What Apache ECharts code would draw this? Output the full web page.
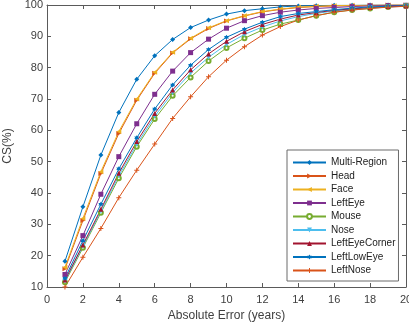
<!DOCTYPE html>
<html>
<head>
<meta charset="utf-8">
<script src="https://cdn.jsdelivr.net/npm/echarts@6/dist/echarts.min.js"></script>
<style>
  html, body { margin: 0; padding: 0; background: #fff; }
  #chart { width: 409px; height: 329px; }
</style>
</head>
<body>
<div id="chart"></div>
<script>
// absolute error (years) 1..20
const errors = [1, 2, 3, 4, 5, 6, 7, 8, 9, 10, 11, 12, 13, 14, 15, 16, 17, 18, 19, 20];

const multiRegion = [18.2, 35.6, 52.1, 65.7, 76.3, 83.8, 89.0, 92.8, 95.2, 97.1, 98.2, 98.8, 99.4, 99.7, 99.8, 99.9, 99.9, 100, 100, 100];
const head = [15.8, 31.2, 46.2, 59.0, 69.6, 78.2, 84.7, 89.2, 92.5, 94.9, 96.5, 97.8, 98.6, 99.2, 99.5, 99.7, 99.8, 99.9, 100, 100];
const face = [16.3, 31.9, 46.8, 59.6, 70.0, 78.5, 84.9, 89.4, 92.7, 95.0, 96.6, 97.9, 98.7, 99.3, 99.6, 99.8, 99.9, 99.9, 100, 100];
const leftEye = [14.0, 26.4, 39.6, 51.6, 62.1, 71.5, 78.9, 84.8, 89.1, 92.6, 95.0, 96.6, 97.7, 98.4, 98.9, 99.2, 99.5, 99.7, 99.8, 99.9];
const mouse = [11.5, 22.5, 33.7, 44.7, 54.8, 63.6, 71.0, 76.9, 82.1, 86.3, 89.4, 92.0, 93.9, 95.2, 96.6, 97.7, 98.4, 98.9, 99.4, 99.7];
const nose = [11.9, 23.0, 34.2, 45.5, 55.5, 64.5, 72.0, 78.3, 83.3, 87.4, 90.6, 93.0, 94.9, 96.3, 97.3, 98.1, 98.7, 99.1, 99.4, 99.6];
const leftEyeCorner = [12.2, 23.4, 34.8, 46.3, 56.4, 65.4, 72.9, 79.3, 84.4, 88.4, 91.5, 93.8, 95.5, 96.8, 97.6, 98.3, 98.8, 99.2, 99.5, 99.7];
const leftLowEye = [12.8, 24.8, 36.4, 47.7, 57.6, 66.8, 74.5, 80.8, 85.8, 89.7, 92.3, 94.5, 96.3, 97.3, 97.9, 98.5, 99.0, 99.4, 99.6, 99.8];
const leftNose = [10.0, 19.5, 28.7, 38.5, 47.3, 55.6, 63.8, 70.7, 77.1, 82.4, 86.7, 90.4, 93.1, 95.2, 96.6, 97.7, 98.4, 98.9, 99.3, 99.6];

const HEXAGRAM = 'path://M100,0L128.9,50L186.6,50L157.7,100L186.6,150L128.9,150L100,200L71.1,150L13.4,150L42.3,100L13.4,50L71.1,50Z';
const PLUS = 'path://M4,0h2v4h4v2h-4v4h-2v-4h-4v-2h4z';

// name, data, colour, marker, rotate
const seriesDefs = [
  ['Multi-Region', multiRegion, '#0072BD', 'diamond', 0],
  ['Head', head, '#D95319', 'triangle', -90],
  ['Face', face, '#EDB120', 'triangle', 90],
  ['LeftEye', leftEye, '#7E2F8E', 'rect', 0],
  ['Mouse', mouse, '#77AC30', 'emptyCircle', 0],
  ['Nose', nose, '#4DBEEE', 'triangle', 180],
  ['LeftEyeCorner', leftEyeCorner, '#A2142F', 'triangle', 0],
  ['LeftLowEye', leftLowEye, '#0072BD', HEXAGRAM, 0],
  ['LeftNose', leftNose, '#D95319', PLUS, 0],
];

const FONT = 'Liberation Sans, Arial, sans-serif';
const AXIS_COLOR = '#5a5a5a';
const TEXT_COLOR = '#404040';

const chart = echarts.init(document.getElementById('chart'), null, { renderer: 'canvas' });

const baseX = {
  type: 'value', min: 0, max: 20, interval: 2,
  axisLine: { show: true, onZero: false, lineStyle: { color: AXIS_COLOR, width: 1 } },
  axisTick: { show: true, inside: true, length: 4, lineStyle: { color: AXIS_COLOR } },
  splitLine: { show: false },
};
const baseY = {
  type: 'value', min: 10, max: 100, interval: 10,
  axisLine: { show: true, onZero: false, lineStyle: { color: AXIS_COLOR, width: 1 } },
  axisTick: { show: true, inside: true, length: 4, lineStyle: { color: AXIS_COLOR } },
  splitLine: { show: false },
};

const option = {
  animation: false,
  backgroundColor: '#fff',
  textStyle: { fontFamily: FONT },
  grid: { left: 47, right: 3, top: 5, bottom: 42, containLabel: false, outerBoundsMode: 'none' },
  xAxis: [
    Object.assign({}, baseX, {
      position: 'bottom',
      name: 'Absolute Error (years)',
      nameLocation: 'middle',
      nameGap: 22,
      nameTextStyle: { color: TEXT_COLOR, fontSize: 12, fontFamily: FONT },
      axisLabel: { color: TEXT_COLOR, fontSize: 11, margin: 7, fontFamily: FONT },
    }),
    Object.assign({}, baseX, { position: 'top', axisLabel: { show: false } }),
  ],
  yAxis: [
    Object.assign({}, baseY, {
      position: 'left',
      name: 'CS(%)',
      nameLocation: 'middle',
      nameGap: 25,
      nameTextStyle: { color: TEXT_COLOR, fontSize: 12, fontFamily: FONT },
      axisLabel: { color: TEXT_COLOR, fontSize: 11, margin: 4, fontFamily: FONT },
    }),
    Object.assign({}, baseY, { position: 'right', axisLabel: { show: false } }),
  ],
  legend: {
    orient: 'vertical',
    left: 287,
    top: 150,
    padding: [7.5, 3, 5.5, 5],
    itemWidth: 33,
    itemHeight: 6,
    itemGap: 3.5,
    backgroundColor: '#fff',
    borderColor: '#6a6a6a',
    borderWidth: 1,
    textStyle: { color: '#222', fontSize: 10, lineHeight: 10, fontFamily: FONT },
    data: seriesDefs.map(d => d[0]),
  },
  series: seriesDefs.map(([name, values, color, symbol, rot]) => ({
    name,
    type: 'line',
    xAxisIndex: 0,
    yAxisIndex: 0,
    data: errors.map((x, i) => [x, values[i]]),
    symbol,
    symbolRotate: rot,
    symbolSize: symbol === 'emptyCircle' ? 4 : 5,
    showSymbol: true,
    color,
    lineStyle: { color, width: 1 },
    itemStyle: { color, borderColor: color, borderWidth: symbol === 'emptyCircle' ? 1 : 0 },
    emphasis: { disabled: true },
  })),
};

chart.setOption(option);
</script>
</body>
</html>
